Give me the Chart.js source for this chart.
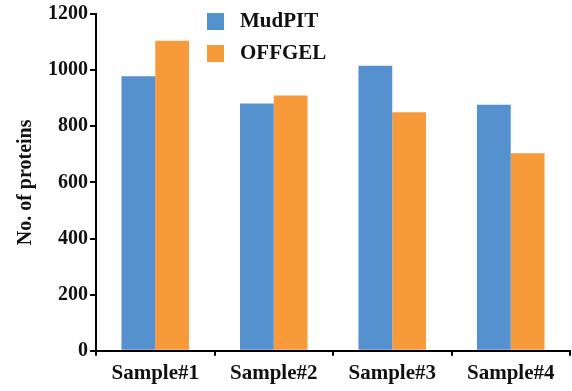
<!DOCTYPE html>
<html>
<head>
<meta charset="utf-8">
<script src="https://cdn.jsdelivr.net/npm/chart.js@4"></script>
<style>
  html, body { margin: 0; padding: 0; background: #fff; }
  #wrap { width: 572px; height: 391px; }
</style>
</head>
<body>
<div id="wrap"><canvas id="chart1"></canvas></div>
<script>
const categories = ['Sample#1', 'Sample#2', 'Sample#3', 'Sample#4'];
const mudpit = [978, 881, 1016, 877];
const offgel = [1105, 910, 850, 704];
const yTicks = [0, 200, 400, 600, 800, 1000, 1200];

const serif = 'Liberation Serif, Times New Roman, serif';

// legend drawn inside the plot area, top middle
const insideLegend = {
  id: 'insideLegend',
  afterDraw(chart) {
    const c = chart.ctx;
    c.save();
    c.font = 'bold 21px ' + serif;
    c.textBaseline = 'middle';
    chart.data.datasets.forEach((ds, i) => {
      const y = 21 + i * 32;
      c.fillStyle = ds.backgroundColor;
      c.fillRect(207, y - 8, 17, 17);
      c.fillStyle = '#111';
      c.fillText(ds.label, 240, y + 1);
    });
    c.restore();
  }
};

const ctx1 = document.getElementById('chart1').getContext('2d');

new Chart(ctx1, {
  type: 'bar',
  data: {
    labels: categories,
    datasets: [
      { label: 'MudPIT', data: mudpit, backgroundColor: '#5590CF' },
      { label: 'OFFGEL', data: offgel, backgroundColor: '#F79A3A' }
    ]
  },
  options: {
    responsive: true,
    maintainAspectRatio: false,
    animation: false,
    layout: { padding: { top: 4, right: 2, left: 14, bottom: 0 } },
    datasets: { bar: { categoryPercentage: 0.57, barPercentage: 1.0 } },
    plugins: {
      legend: { display: false },
      tooltip: { enabled: false }
    },
    scales: {
      x: {
        grid: { drawOnChartArea: false, offset: true, color: '#000', lineWidth: 2, tickLength: 5 },
        border: { color: '#000', width: 2 },
        ticks: { color: '#111', font: { family: serif, size: 21, weight: 'bold' }, padding: 5 }
      },
      y: {
        min: 0,
        max: 1200,
        afterBuildTicks: (axis) => { axis.ticks = yTicks.map(v => ({ value: v })); },
        grid: { drawOnChartArea: false, color: '#000', lineWidth: 2, tickLength: 6 },
        border: { color: '#000', width: 2 },
        ticks: {
          color: '#111',
          font: { family: serif, size: 20, weight: 'bold' },
          padding: 2,
          callback: (v) => String(v)
        },
        title: {
          display: true,
          text: 'No. of proteins',
          color: '#111',
          font: { family: serif, size: 20, weight: 'bold' },
          padding: { top: 0, bottom: 8 }
        }
      }
    }
  },
  plugins: [insideLegend]
});
</script>
</body>
</html>
